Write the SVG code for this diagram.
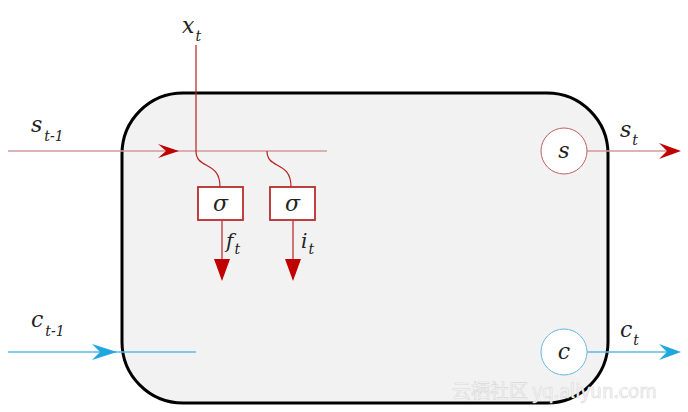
<svg xmlns="http://www.w3.org/2000/svg" width="688" height="412" viewBox="0 0 688 412">
<style>
text{font-family:'DejaVu Serif','Liberation Serif',serif;font-style:italic;fill:#222}
.main{font-size:22px}
.sub{font-size:14px}
.sline{stroke:#d49a9a;stroke-width:1.3;fill:none}
.rline{stroke:#b82020;stroke-width:1.2;fill:none}
.cline{stroke:#5ab8e4;stroke-width:1.3;fill:none}
.rhead{fill:#c00000}
.chead{fill:#1fa8e0}
.gate{fill:#fff;stroke:#b82c2c;stroke-width:1.8}
text.wm{font-family:'Noto Sans CJK SC','Liberation Sans',sans-serif;font-style:normal;font-size:19px;fill:#fafafa;stroke:#d8d8d8;stroke-width:0.6}
</style>
<rect width="688" height="412" fill="#fff"/>
<g id="cell">
<rect x="122" y="93" width="486" height="310" rx="61" ry="61" fill="#f2f2f2" stroke="#000" stroke-width="3"/>
</g>
<g id="connectors">
<line class="sline" x1="8" y1="151" x2="327" y2="151"/>
<path class="rhead" d="M158,144 L179,151 L158,158 L166,151 Z"/>
<line class="rline" x1="196" y1="45" x2="196" y2="151"/>
<path class="rline" d="M196,151 C196,170 220,160 220,187"/>
<path class="rline" d="M267,151 C267,170 291,160 291,187"/>
<line class="rline" x1="222" y1="221" x2="222" y2="260"/>
<path class="rhead" d="M214,259 L230,259 L222,281 Z"/>
<line class="rline" x1="293" y1="221" x2="293" y2="260"/>
<path class="rhead" d="M285,259 L301,259 L293,281 Z"/>
<line class="sline" x1="587" y1="151" x2="670" y2="151"/>
<path class="rhead" d="M659,143 L681,151 L659,159 L667,151 Z"/>
<line class="cline" x1="8" y1="352" x2="196" y2="352"/>
<path class="chead" d="M92,344 L117,352 L92,360 L100,352 Z"/>
<line class="cline" x1="587" y1="352" x2="670" y2="352"/>
<path class="chead" d="M659,344 L681,352 L659,360 L667,352 Z"/>
</g>
<g id="gate-f">
<rect class="gate" x="198" y="187" width="45" height="33"/>
<text class="main" x="220.5" y="211" text-anchor="middle">σ</text>
</g>
<g id="gate-i">
<rect class="gate" x="270" y="187" width="45" height="33"/>
<text class="main" x="292.5" y="211" text-anchor="middle">σ</text>
</g>
<g id="node-s">
<circle cx="564" cy="151" r="23" fill="#fff" stroke="#c06060" stroke-width="1"/>
<text class="main" x="564" y="158" text-anchor="middle">s</text>
</g>
<g id="node-c">
<circle cx="564" cy="352" r="23" fill="#fff" stroke="#6ab8dc" stroke-width="1"/>
<text class="main" x="564" y="359" text-anchor="middle">c</text>
</g>
<g id="labels">
<text x="182" y="33"><tspan class="main">x</tspan><tspan class="sub" dx="1" dy="8">t</tspan></text>
<text x="31" y="132"><tspan class="main">s</tspan><tspan class="sub" dx="2" dy="9">t-1</tspan></text>
<text x="31" y="327"><tspan class="main">c</tspan><tspan class="sub" dx="2" dy="9">t-1</tspan></text>
<text x="620" y="137"><tspan class="main">s</tspan><tspan class="sub" dx="1" dy="8">t</tspan></text>
<text x="620" y="337"><tspan class="main">c</tspan><tspan class="sub" dx="1" dy="8">t</tspan></text>
<text x="226" y="248"><tspan class="main" style="font-size:20px">f</tspan><tspan class="sub" dx="1" dy="6">t</tspan></text>
<text x="301" y="248"><tspan class="main" style="font-size:20px">i</tspan><tspan class="sub" dx="1" dy="6">t</tspan></text>
</g>
<text class="wm" x="452" y="398">云栖社区 yq.aliyun.com</text>
</svg>
